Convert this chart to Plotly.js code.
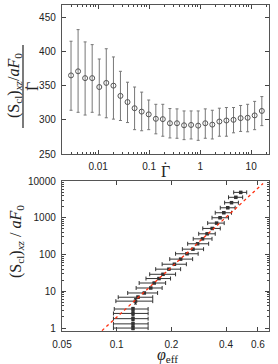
<!DOCTYPE html>
<html>
<head>
<meta charset="utf-8">
<script src="https://cdn.plot.ly/plotly-3.0.1.min.js"></script>
<style>html,body{margin:0;padding:0;background:#fff;}#chart{width:278px;height:364px;}</style>
</head>
<body>
<div id="chart"></div>
<script>
// ---- top panel: stress / shear rate vs shear rate ----
const gammaDot = [0.00293,0.00403,0.00554,0.00762,0.0105,0.0144,0.0199,0.0273,0.0376,0.0517,0.0712,0.0979,0.135,0.185,0.255,0.351,0.483,0.664,0.914,1.26,1.73,2.38,3.27,4.51,6.21,8.53,11.7,16.2];
const ratioTop = [365,371,361,361,348,354,350,335,326,317,312,308,301.5,301,295,295,292,292.5,291.5,295,293,297.5,299,300,302.5,303,306.5,313];
const ratioTopHigh = [415,432,414,410,389,404,392,371,355,348,340.5,329,322.7,322.7,316.5,316,313,313,313,316,314,317,318,318,321,322.7,327,334];
const ratioTopLow = [314,311,307,311,307,303,301,299,296,285.6,284,285.6,279.5,276,273.5,273,271,272,270,273,272,276,276,281,283,282.5,285.6,291.5];

// ---- bottom panel: stress vs effective volume fraction ----
const phiEff = [0.482,0.453,0.429,0.409,0.389,0.371,0.355,0.336,0.315,0.297,0.279,0.263,0.244,0.225,0.208,0.194,0.180,0.171,0.161,0.154,0.142,0.131,0.127,0.123,0.123,0.123,0.123,0.123];
const stressBot = [4900,3600,2570,1870,1370,1000,716,512,366,267,196,140,105,75,54.5,40,29,22.2,16.8,12.3,9.0,6.9,5.4,3.3,2.5,1.8,1.3,1.0];
const phiLow = [0.441,0.413,0.393,0.372,0.349,0.335,0.317,0.298,0.283,0.264,0.246,0.230,0.211,0.196,0.178,0.164,0.152,0.145,0.133,0.128,0.115,0.102,0.099,0.097,0.096,0.096,0.096,0.096];
const phiHigh = [0.520,0.494,0.468,0.449,0.429,0.413,0.391,0.372,0.349,0.335,0.321,0.301,0.281,0.262,0.242,0.225,0.211,0.198,0.186,0.178,0.168,0.158,0.158,0.149,0.149,0.149,0.149,0.149];
const stressErr = [150,110,80,60,45,30,22,16,11,8,6,4.5,3.2,2.3,1.7,1.2,0.9,0.7,0.5,0.4,0.3,0.5,0.9,0.35,0.28,0.2,0.15,0.1];
const fitPhi = [0.083,0.64];
const fitStress = [0.85,8600];

const topTicks = [0.01,0.1,1,10];
const topTickText = ['0.01','0.1','1','10'];
const botXTicks = [0.05,0.1,0.2,0.4,0.6];
const botXTickText = ['0.05','0.1','0.2','0.4','0.6'];
const botYTicks = [1,10,100,1000,10000];
const botYTickText = ['1','10','100','1000','10000'];
const topYTicks = [250,300,350,400,450];

function minorLog(decades){const v=[];decades.forEach(d=>{for(let k=2;k<10;k++)v.push(k*d);});return v;}

const W=278,H=364;
const px=x=>x/W, py=y=>1-y/H;
const serif = 'Liberation Serif, DejaVu Serif, serif';

const traces = [
  {x:gammaDot, y:ratioTop, xaxis:'x', yaxis:'y', type:'scatter', mode:'markers',
   marker:{symbol:'circle-open', size:5, color:'#555', line:{width:1,color:'#555'}},
   error_y:{type:'data', symmetric:false,
     array:ratioTopHigh.map((h,i)=>h-ratioTop[i]),
     arrayminus:ratioTop.map((v,i)=>v-ratioTopLow[i]),
     color:'#777', thickness:1, width:1.5},
   hoverinfo:'skip', showlegend:false},
  {x:phiEff, y:stressBot, xaxis:'x2', yaxis:'y2', type:'scatter', mode:'markers',
   marker:{symbol:'square', size:3.5, color:'#333'},
   error_x:{type:'data', symmetric:false,
     array:phiHigh.map((h,i)=>h-phiEff[i]),
     arrayminus:phiEff.map((v,i)=>v-phiLow[i]),
     color:'#333', thickness:1, width:2},
   error_y:{type:'data', array:stressErr, color:'#222', thickness:1, width:1.5},
   hoverinfo:'skip', showlegend:false},
  {x:fitPhi, y:fitStress, xaxis:'x2', yaxis:'y2', type:'scatter', mode:'lines',
   line:{color:'#ff3010', width:1.3, dash:'dot'}, hoverinfo:'skip', showlegend:false}
];

const tickFont = {family:'Liberation Sans, Arial, sans-serif', size:10, color:'#222'};
const axBase = {showline:true, linecolor:'#555', linewidth:1.2, mirror:'allticks', ticks:'inside',
  ticklen:4, tickcolor:'#444', tickwidth:1, showgrid:false, zeroline:false, tickfont:tickFont};

function ann(text, x, y, opts, size){
  return Object.assign({text:text, xref:'paper', yref:'paper', x:px(x), y:py(y), showarrow:false,
    xanchor:'center', yanchor:'middle', font:{family:serif, size:size||16, color:'#222'}}, opts||{});
}

const layout = {
  width:W, height:H, autosize:false,
  margin:{l:0,r:0,t:0,b:0},
  paper_bgcolor:'#fff', plot_bgcolor:'#fff',
  xaxis:Object.assign({}, axBase, {type:'log', range:[-2.71,1.35], domain:[px(62),px(269)], anchor:'y',
    tickmode:'array', tickvals:topTicks, ticktext:topTickText, ticklabelstandoff:3,
    minor:{tickmode:'array', tickvals:minorLog([0.001,0.01,0.1,1,10]), ticks:'inside', ticklen:2, tickcolor:'#444'}}),
  yaxis:Object.assign({}, axBase, {range:[250,468], domain:[py(154),py(5)], anchor:'x',
    tickmode:'array', tickvals:topYTicks, ticklabelstandoff:3}),
  xaxis2:Object.assign({}, axBase, {type:'log', range:[Math.log10(0.05),Math.log10(0.69)], domain:[px(62),px(269)], anchor:'y2',
    tickmode:'array', tickvals:botXTicks, ticktext:botXTickText, ticklabelstandoff:4}),
  yaxis2:Object.assign({}, axBase, {type:'log', range:[-0.08,4.0], domain:[py(331),py(181)], anchor:'x2',
    tickmode:'array', tickvals:botYTicks, ticktext:botYTickText, ticklabelstandoff:3,
    minor:{tickmode:'array', tickvals:minorLog([1,10,100,1000]), ticks:'inside', ticklen:2, tickcolor:'#444'}}),
  shapes:[
    {type:'line', xref:'paper', yref:'paper', x0:px(23), x1:px(23), y0:py(45), y1:py(128), line:{color:'#222', width:1.2}}
  ],
  annotations:[
    ann('(S<sub>cl</sub>)<sub><i>xz</i></sub>/<i>aF</i><sub>0</sub>', 14, 86, {textangle:-90}),
    ann('Γ', 32, 87, {textangle:-90}),
    ann('·', 26.5, 87.5, {textangle:-90}, 14),
    ann('Γ', 165, 171),
    ann('·', 165.5, 164, {}, 14),
    ann('(S<sub>cl</sub>)<sub><i>xz</i></sub> / <i>aF</i><sub>0</sub>', 16, 242, {textangle:-90}),
    ann('<i>φ</i><sub>eff</sub>', 167, 355)
  ]
};

Plotly.newPlot('chart', traces, layout, {staticPlot:true, displayModeBar:false});
</script>
</body>
</html>
